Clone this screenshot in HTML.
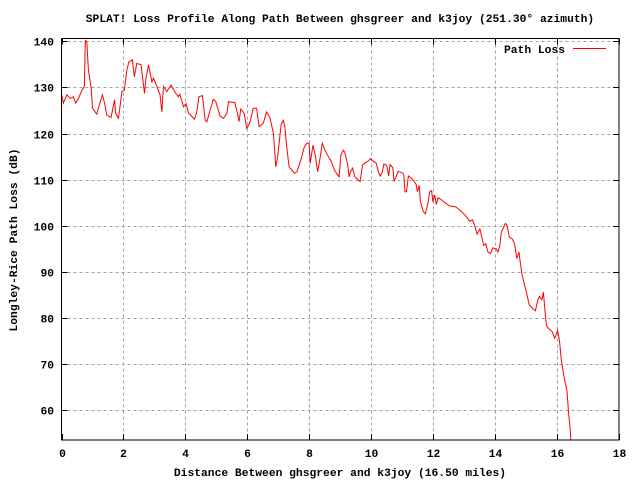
<!DOCTYPE html>
<html><head><meta charset="utf-8"><style>
body{margin:0;background:#fff}
svg{display:block}
text{font-family:"Liberation Mono","DejaVu Sans Mono",monospace;font-size:11.3px;font-weight:bold;fill:#000}
</style></head><body>
<svg id="chart" width="640" height="480">
<text x="340" y="22" text-anchor="middle">SPLAT! Loss Profile Along Path Between ghsgreer and k3joy (251.30° azimuth)</text>
<text x="340" y="476" text-anchor="middle">Distance Between ghsgreer and k3joy (16.50 miles)</text>
<text transform="translate(17,240) rotate(-90)" text-anchor="middle">Longley-Rice Path Loss (dB)</text>
<g id="grid"></g><g id="ticks"></g>
<defs><clipPath id="cp"><rect x="61.5" y="38.5" width="557.5" height="401.5"/></clipPath></defs>
<path id="series" fill="none" stroke="#f00" stroke-width="1" clip-path="url(#cp)"/>
<rect x="61.5" y="38.5" width="557.5" height="401.5" fill="none" stroke="#000" stroke-width="1"/>
<g>
<text x="565" y="53" text-anchor="end">Path Loss</text>
<line x1="573" y1="48.5" x2="606" y2="48.5" stroke="#f00"/>
</g>
</svg>
<script>
const xTicks=[0,2,4,6,8,10,12,14,16,18];
const yTicks=[60,70,80,90,100,110,120,130,140];
const miles=[0.01,0.06,0.17,0.28,0.38,0.46,0.55,0.66,0.74,0.77,0.82,0.87,0.96,1.0,1.14,1.22,1.32,1.39,1.46,1.6,1.71,1.75,1.84,1.95,2.03,2.11,2.18,2.29,2.35,2.43,2.57,2.68,2.72,2.81,2.92,2.97,3.08,3.18,3.24,3.29,3.4,3.54,3.67,3.77,3.82,3.94,4.02,4.1,4.2,4.29,4.36,4.44,4.55,4.64,4.69,4.8,4.9,4.98,5.12,5.23,5.34,5.39,5.6,5.68,5.73,5.79,5.9,5.98,6.08,6.19,6.3,6.38,6.52,6.62,6.73,6.84,6.92,6.98,7.09,7.16,7.21,7.27,7.35,7.52,7.6,7.73,7.84,7.92,7.99,8.03,8.12,8.2,8.27,8.34,8.42,8.51,8.6,8.7,8.81,8.96,9.02,9.1,9.14,9.23,9.29,9.33,9.4,9.47,9.64,9.72,9.8,9.9,9.98,10.07,10.16,10.24,10.29,10.35,10.41,10.5,10.56,10.61,10.7,10.74,10.87,11.0,11.05,11.09,11.14,11.2,11.34,11.45,11.49,11.55,11.59,11.68,11.75,11.83,11.89,11.95,11.99,12.05,12.1,12.16,12.27,12.38,12.54,12.73,12.86,12.97,13.07,13.18,13.27,13.34,13.42,13.51,13.56,13.63,13.7,13.77,13.85,13.93,14.04,14.09,14.15,14.2,14.25,14.33,14.38,14.46,14.55,14.63,14.7,14.77,14.81,14.87,14.95,15.03,15.1,15.21,15.3,15.38,15.43,15.51,15.56,15.63,15.67,15.76,15.84,15.92,15.97,16.02,16.08,16.13,16.21,16.28,16.32,16.37,16.43,16.44,16.5];
const lossDb=[128.4,126.6,128.4,127.6,128,126.6,127.6,129.4,130.2,140.3,139.6,133.8,129.8,125.5,124.2,126.2,128.4,126.6,124,123.5,127.3,124.4,123.3,129.1,129.4,133.8,135.6,136,132.3,135.2,134.9,128.7,131.6,134.9,131.2,132,130.2,128.4,124.7,130.2,129.1,130.5,128.9,128,128.5,125.8,126.5,124.4,123.8,123.1,124.4,128,128.2,122.9,122.5,125.1,127.4,127,123.8,123.3,124.4,126.9,126.7,124.4,122.6,125.3,124.4,121.1,122.3,125.5,125.5,121.5,122.3,124.7,123.5,120.1,112.8,115,121.9,122.9,121.5,117.1,112.8,111.4,111.7,114.3,117.1,117.9,117.9,113.5,117.5,115,111.7,114.3,117.9,116.3,115.2,114.1,112.1,110.6,115.3,116.4,116,113.6,110.6,111.7,112.5,110.6,109.6,113.2,113.6,114,114.6,114,113.6,111.5,110.8,111.5,113.4,113.1,110.8,113.3,112.5,109.6,111.8,111.5,111.2,107.4,107.4,110.8,110.1,109,107.4,108.8,105.2,103.1,102.6,104.8,107.4,107.6,105.2,106.7,104.6,106.1,105.6,105,104.3,104.1,103.4,102.7,102,101,101.3,100,98.2,99.3,97.8,95.7,96.1,94.3,94,95.2,95,94.3,95.7,98.6,99.3,100.5,100.2,97.5,97.2,96.1,92.9,94.3,92.2,89.3,87.2,85,82.9,82.1,81.6,84,84.7,84,85.6,80,78.2,77.5,77.1,75.6,76.4,77.3,75,71.3,67.7,65.5,64.1,59.7,55.4,54,45];
const NS='http://www.w3.org/2000/svg';
const X=v=>61.5+v*(557.5/18);
const Y=v=>410.3-(v-60)*4.6125;
const grid=document.getElementById('grid'),ticks=document.getElementById('ticks');
function mk(tag,attrs,parent){const e=document.createElementNS(NS,tag);for(const k in attrs)e.setAttribute(k,attrs[k]);parent.appendChild(e);return e;}
xTicks.forEach(t=>{
 const x=Math.round(X(t))+0.5;
 if(t>0&&t<18){const g=mk('line',{x1:x,y1:38.5,x2:x,y2:440,stroke:'#a0a0a0','stroke-dasharray':'3,3'},grid);
 
 }
 const tk=mk('path',{d:`M${x},440v-6M${x},38.5v6`,stroke:'#000'},ticks);
 
 
 const l=mk('text',{x:x,y:457,'text-anchor':'middle'},ticks);l.textContent=t;
 
 
});
yTicks.forEach(t=>{
 const y=Math.round(Y(t))+0.5;
 const g=mk('line',{x1:61.5,y1:y,x2:619,y2:y,stroke:'#a0a0a0','stroke-dasharray':'3,3'},grid);
 
 
 const tk=mk('path',{d:`M61.5,${y}h6M619,${y}h-6`,stroke:'#000'},ticks);
 
 
 const l=mk('text',{x:54,y:y+4,'text-anchor':'end'},ticks);l.textContent=t;
 
 
});
document.getElementById('series').setAttribute('d',miles.map((m,i)=>(i?'L':'M')+X(m).toFixed(1)+','+Y(lossDb[i]).toFixed(1)).join(''));
</script>
</body></html>
